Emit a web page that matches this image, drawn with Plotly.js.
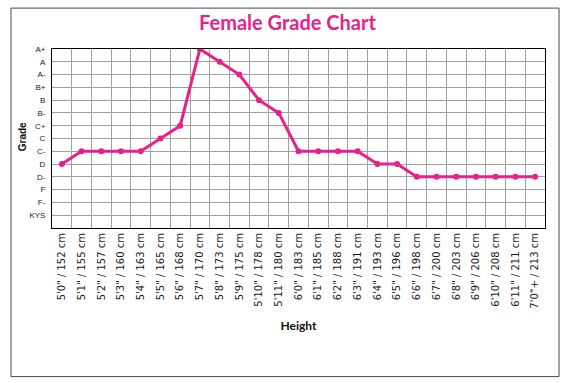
<!DOCTYPE html>
<html>
<head>
<meta charset="utf-8">
<script src="https://cdn.plot.ly/plotly-3.0.1.min.js"></script>
<style>
  html, body { margin: 0; padding: 0; background: #fff; }
  #chart { width: 575px; height: 383px; }
</style>
</head>
<body>
<div id="chart"></div>
<script>
// Height categories along the x axis
const heights = [
  "5'0\" / 152 cm", "5'1\" / 155 cm", "5'2\" / 157 cm", "5'3\" / 160 cm",
  "5'4\" / 163 cm", "5'5\" / 165 cm", "5'6\" / 168 cm", "5'7\" / 170 cm",
  "5'8\" / 173 cm", "5'9\" / 175 cm", "5'10\" / 178 cm", "5'11\" / 180 cm",
  "6'0\" / 183 cm", "6'1\" / 185 cm", "6'2\" / 188 cm", "6'3\" / 191 cm",
  "6'4\" / 193 cm", "6'5\" / 196 cm", "6'6\" / 198 cm", "6'7\" / 200 cm",
  "6'8\" / 203 cm", "6'9\" / 206 cm", "6'10\" / 208 cm", "6'11\" / 211 cm",
  "7'0\"+ / 213 cm"
];

// Grade scale, lowest first (index = numeric level)
const grades = ["KYS", "F-", "F", "D-", "D", "C-", "C", "C+", "B-", "B", "B+", "A-", "A", "A+"];

// Grade given to each height
const gradeByHeight = [
  "D", "C-", "C-", "C-", "C-", "C", "C+", "A+", "A", "A-", "B", "B-",
  "C-", "C-", "C-", "C-", "D", "D", "D-", "D-", "D-", "D-", "D-", "D-", "D-"
];

const levels = gradeByHeight.map(g => grades.indexOf(g));
const gradeLevels = grades.map((g, i) => i);

// Plot-area pixel box, used to place the frame and titles in paper units
const W = 575, H = 383;
const L = 52, R = 545, T = 48.5, B = 228;
const px = x => (x - L) / (R - L);
const py = y => (B - y) / (B - T);

const pink = '#E6228A';

const trace = {
  type: 'scatter',
  mode: 'lines+markers',
  x: heights,
  y: levels,
  line: { color: pink, width: 3 },
  marker: { color: pink, size: 6 },
  hoverinfo: 'skip'
};

const layout = {
  width: W, height: H,
  margin: { l: L, r: W - R, t: T, b: H - B, pad: 0 },
  paper_bgcolor: '#fff',
  plot_bgcolor: '#fff',
  showlegend: false,
  title: {
    text: '<b>Female Grade Chart</b>',
    font: { family: 'Lato, "Open Sans", sans-serif', size: 20, color: pink },
    x: 0.5, xanchor: 'center',
    y: 1 - 23 / H, yanchor: 'middle', yref: 'container'
  },
  xaxis: {
    type: 'category',
    categoryorder: 'array',
    categoryarray: heights,
    range: [-0.5, heights.length - 0.5],
    tickson: 'boundaries',
    tickangle: -90,
    ticks: '',
    showgrid: true,
    gridcolor: '#a0a0a0',
    gridwidth: 1,
    showline: true,
    linecolor: '#000',
    linewidth: 1,
    mirror: true,
    zeroline: false,
    automargin: false,
    tickfont: { family: '"DejaVu Sans", Verdana, sans-serif', size: 10, color: '#1a1a1a' },
    title: {
      text: '<b>Height</b>',
      font: { family: 'Lato, "Open Sans", sans-serif', size: 12, color: '#111' },
      standoff: 13
    }
  },
  yaxis: {
    range: [-1, grades.length - 1],
    tickmode: 'array',
    tickvals: gradeLevels,
    ticktext: grades,
    ticks: '',
    ticklabelstandoff: 4,
    showgrid: true,
    gridcolor: '#a0a0a0',
    gridwidth: 1,
    showline: true,
    linecolor: '#000',
    linewidth: 1,
    mirror: true,
    zeroline: false,
    automargin: false,
    tickfont: { family: '"Liberation Sans", Arial, sans-serif', size: 8, color: '#1a1a1a' }
  },
  annotations: [{
    text: '<b>Grade</b>',
    xref: 'paper', yref: 'paper',
    x: px(22), y: py(137),
    xanchor: 'center', yanchor: 'middle',
    textangle: -90, showarrow: false,
    font: { family: '"Liberation Sans", Arial, sans-serif', size: 10, color: '#111' }
  }],
  shapes: [{
    type: 'rect', xref: 'paper', yref: 'paper', layer: 'below',
    x0: px(11), x1: px(559), y0: py(377), y1: py(7.5),
    line: { color: '#4a4a4a', width: 1 }, fillcolor: 'rgba(0,0,0,0)'
  }]
};

Plotly.newPlot('chart', [trace], layout, { staticPlot: true, displayModeBar: false });
</script>
</body>
</html>
